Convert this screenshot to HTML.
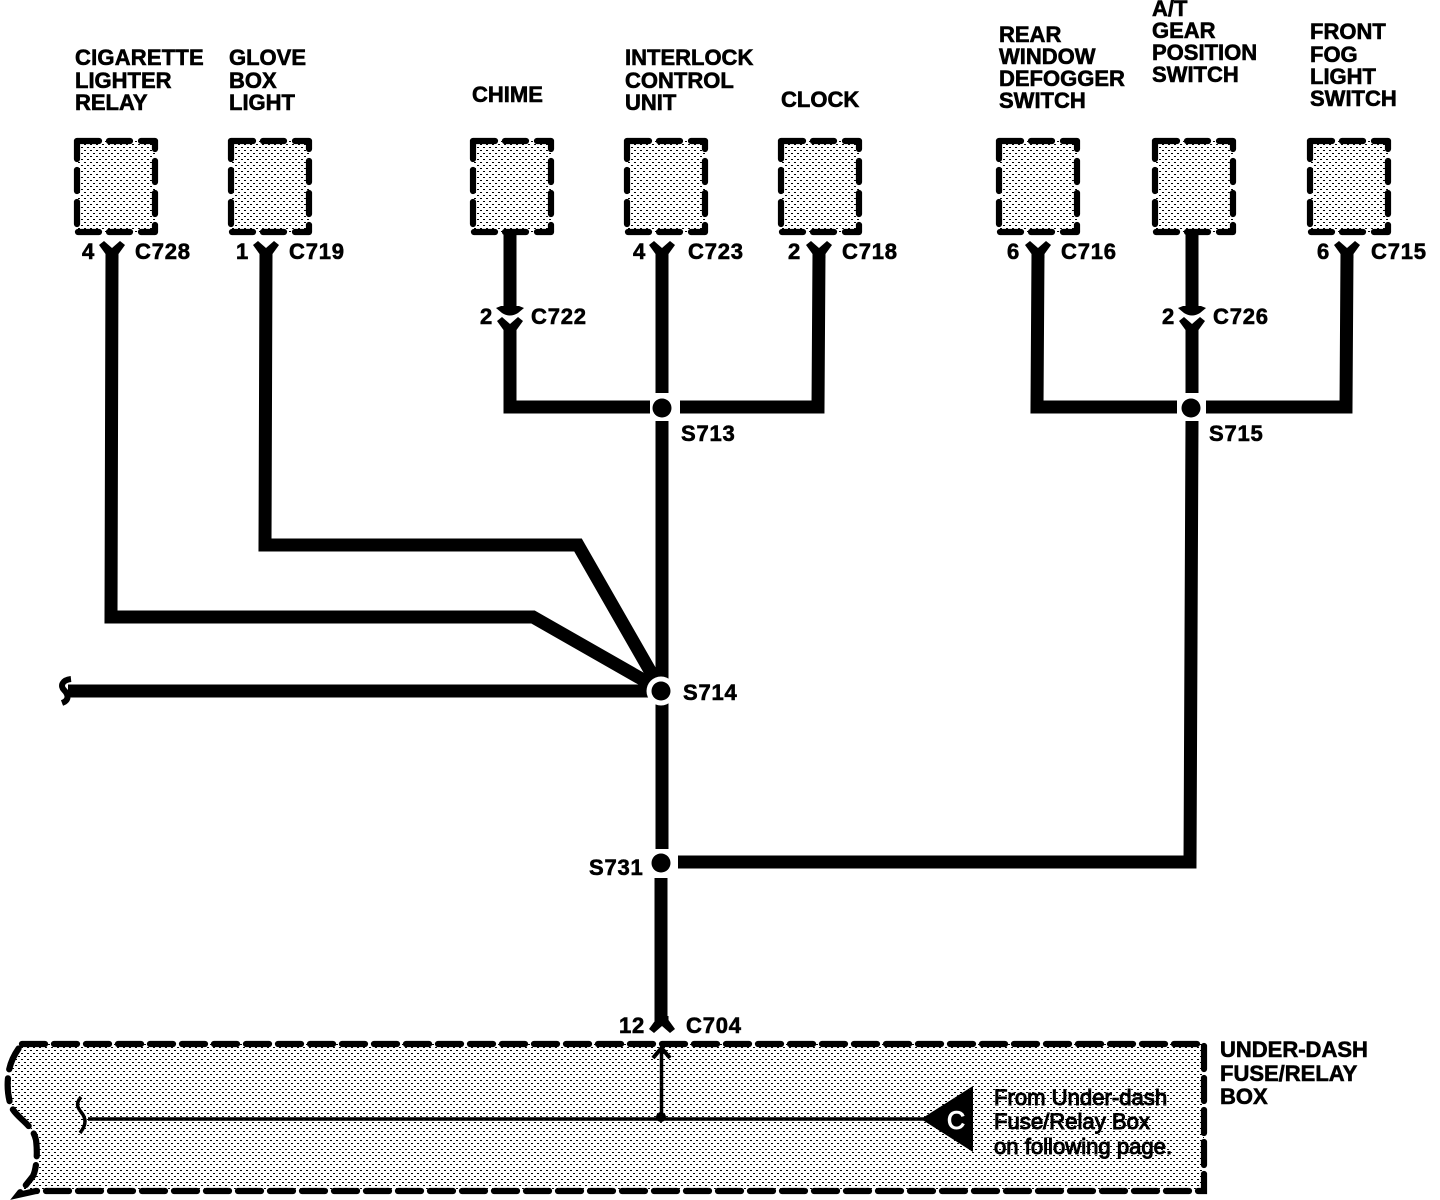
<!DOCTYPE html>
<html><head><meta charset="utf-8"><style>
html,body{margin:0;padding:0;background:#fff}
svg{display:block}
text{font-family:"Liberation Sans",sans-serif;font-weight:bold;font-size:22px;fill:#000;stroke:#000;stroke-width:.6px}
.n{font-weight:normal;font-size:22.1px;stroke-width:1px}
</style></head><body>
<svg width="1440" height="1200" viewBox="0 0 1440 1200" xmlns="http://www.w3.org/2000/svg">
<defs>
<pattern id="st" width="6" height="6" patternUnits="userSpaceOnUse">
<rect width="6" height="6" fill="#fff"/>
<rect x="0" y="0" width="2" height="1" fill="#000" shape-rendering="crispEdges"/>
<rect x="3" y="3" width="2" height="1" fill="#000" shape-rendering="crispEdges"/>
</pattern>
<g id="box">
<rect x="77" y="141" width="78" height="91" fill="url(#st)"/>
<path fill="none" stroke="#000" stroke-width="6.2" stroke-linecap="round" stroke-linejoin="round" d="M77 159V141H99M109 141H130M141 141H155V149M155 161V182M155 193V214M155 225V232H141M130 232H109M99 232H78M77 224V202M77 191V170"/>
</g>
<path id="y" d="M99 245L104 241L112 248L120 241L125 245L118.5 254V258H105.5V254Z" fill="#000"/>
<path id="tip" d="M98 308L103 306H121L126 308L120 313Q112 318 104 313Z" fill="#000"/>
</defs>
<rect width="1440" height="1200" fill="#fff"/>

<!-- boxes -->
<use href="#box"/>
<use href="#box" x="154"/>
<use href="#box" x="396"/>
<use href="#box" x="550"/>
<use href="#box" x="704"/>
<use href="#box" x="922"/>
<use href="#box" x="1078"/>
<use href="#box" x="1233"/>

<!-- fuse box -->
<path d="M22 1044H1204V1191H20L33 1176C36 1170 38 1155 36 1140C32 1122 14 1118 10 1103C8 1095 7 1088 8 1078C9 1064 14 1054 22 1044Z" fill="url(#st)" stroke="none"/>
<path d="M22 1044H1204V1191H36L18 1195L33 1176C36 1170 38 1155 36 1140C32 1122 14 1118 10 1103C8 1095 7 1088 8 1078C9 1064 14 1054 22 1044Z" fill="none" stroke="#000" stroke-width="6.2" stroke-dasharray="23 9" stroke-linecap="round"/>

<!-- wires -->
<g fill="none" stroke="#000" stroke-width="13" stroke-linejoin="miter">
<path d="M112 253L111 617H533L661 690"/>
<path d="M266 253L265 545H578L661 690"/>
<path d="M662 253V393"/>
<path d="M510 232V310"/>
<path d="M510 329V407H650"/>
<path d="M819 253L818 407H680"/>
<path d="M1038 253L1037 407H1177"/>
<path d="M1192 232V310"/>
<path d="M1192 329V393"/>
<path d="M1347 253L1346 407H1206"/>
<path d="M662 421V690"/>
<path d="M662 690V849"/>
<path d="M661 878V1021"/>
<path d="M1192 421L1190 862H678"/>
<path d="M68 691H660"/>
</g>

<!-- splices -->
<circle cx="661" cy="691" r="14.5" fill="#fff"/>
<g fill="#000">
<circle cx="662" cy="408" r="9.5"/>
<circle cx="1191" cy="408" r="9.5"/>
<circle cx="661" cy="691" r="9.5"/>
<circle cx="661" cy="863" r="9.5"/>
<circle cx="661" cy="1117" r="5"/>
</g>

<!-- connector ends -->
<use href="#y"/>
<use href="#y" x="154"/>
<use href="#y" x="550"/>
<use href="#y" x="707"/>
<use href="#y" x="926"/>
<use href="#y" x="1235"/>
<use href="#tip" x="398"/>
<use href="#tip" x="1080"/>
<use href="#y" x="398" y="76"/>
<use href="#y" x="1080" y="76"/>
<use href="#y" transform="translate(550 1274) scale(1 -1)"/>
<path d="M71 679C62 680 60 686 64 690C68 694 70 700 62 703" fill="none" stroke="#000" stroke-width="6"/>

<!-- thin wires in box -->
<g fill="none" stroke="#000" stroke-width="3.5">
<path d="M88 1119H925"/>
<path d="M661.5 1117V1050"/>
<path d="M653 1058L661.5 1048L670 1058" stroke-width="4"/>
<path d="M81 1097C75 1104 78 1108 81 1112C86 1118 87 1124 80 1133"/>
</g>
<path d="M921 1119L973 1086V1152Z" fill="#000"/>
<text x="947" y="1129" style="fill:#fff;stroke:#fff;font-weight:normal;stroke-width:1px;font-size:25px">C</text>

<!-- labels -->
<text x="75" y="65" style="letter-spacing:.2px">CIGARETTE</text><text x="75" y="88">LIGHTER</text><text x="75" y="110">RELAY</text>
<text x="229" y="65">GLOVE</text><text x="229" y="88">BOX</text><text x="229" y="110">LIGHT</text>
<text x="472" y="102">CHIME</text>
<text x="625" y="65">INTERLOCK</text><text x="625" y="88">CONTROL</text><text x="625" y="110">UNIT</text>
<text x="781" y="107">CLOCK</text>
<text x="999" y="42">REAR</text><text x="999" y="64">WINDOW</text><text x="999" y="86">DEFOGGER</text><text x="999" y="108">SWITCH</text>
<text x="1152" y="16">A/T</text><text x="1152" y="38">GEAR</text><text x="1152" y="60">POSITION</text><text x="1152" y="82">SWITCH</text>
<text x="1310" y="39">FRONT</text><text x="1310" y="62">FOG</text><text x="1310" y="84">LIGHT</text><text x="1310" y="106">SWITCH</text>

<g style="letter-spacing:.8px">
<text x="82" y="259">4</text><text x="135" y="259">C728</text>
<text x="236" y="259">1</text><text x="289" y="259">C719</text>
<text x="633" y="259">4</text><text x="688" y="259">C723</text>
<text x="788" y="259">2</text><text x="842" y="259">C718</text>
<text x="1007" y="259">6</text><text x="1061" y="259">C716</text>
<text x="1317" y="259">6</text><text x="1371" y="259">C715</text>
<text x="480" y="324">2</text><text x="531" y="324">C722</text>
<text x="1162" y="324">2</text><text x="1213" y="324">C726</text>
<text x="681" y="441">S713</text>
<text x="1209" y="441">S715</text>
<text x="683" y="700">S714</text>
<text x="589" y="875">S731</text>
<text x="619" y="1033">12</text><text x="686" y="1033">C704</text>
</g>
<text x="1220" y="1057">UNDER-DASH</text><text x="1220" y="1081">FUSE/RELAY</text><text x="1220" y="1104">BOX</text>
<text class="n" x="994" y="1105">From Under-dash</text>
<text class="n" x="994" y="1129">Fuse/Relay Box</text>
<text class="n" x="994" y="1154">on following page.</text>
</svg>
</body></html>
